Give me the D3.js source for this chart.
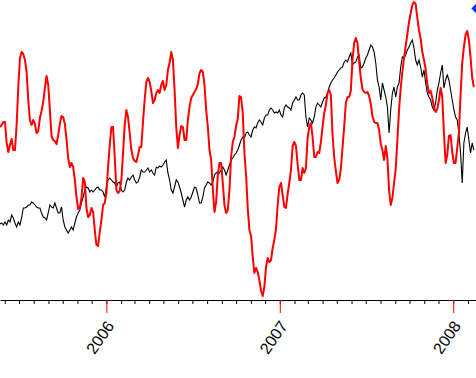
<!DOCTYPE html>
<html>
<head>
<meta charset="utf-8">
<script src="https://cdn.jsdelivr.net/npm/d3@7"></script>
<style>
body { margin: 0; background: #fff; }
svg { display: block; }
</style>
</head>
<body>
<script>
var svgWidth = 476;
var svgHeight = 378;
var axisY = 300;

// sampled twice a week from the start date
var startDate = new Date(2005, 4, 22);
var endDate = new Date(2008, 1, 18);
var stepHours = 84;

// black series (price)
var priceValues = [
  7.6,7.7,7.5,7.8,7.5,8.0,7.8,8.5,8.2,7.7,7.3,7.8,7.5,8.2,9.2,9.2,9.3,9.5,9.5,9.8,
  9.7,9.5,9.3,9.2,9.2,8.7,8.3,8.2,8.0,8.7,9.5,9.3,9.2,9.7,9.2,8.7,8.7,9.3,8.0,7.3,
  7.0,6.7,7.0,7.3,7.0,7.7,8.3,8.7,9.0,
  9.7,10.3,11.0,11.3,11.2,10.8,11.0,10.8,11.0,11.2,11.3,11.0,11.0,10.8,10.3,11.3,12.0,12.2,12.0,11.8,
  11.7,11.3,11.7,11.8,11.0,10.8,11.0,11.8,12.2,12.0,12.3,12.5,12.0,11.7,11.8,12.3,13.0,12.8,12.8,13.0,
  13.2,12.8,13.0,12.7,12.5,13.3,13.2,13.4,
  13.3,13.5,13.8,14.0,12.7,12.0,11.0,10.7,11.3,12.0,11.8,11.3,10.7,10.0,9.3,10.0,10.3,10.0,10.3,10.8,
  11.3,11.2,10.5,9.7,9.7,10.3,11.2,11.5,11.8,11.7,11.5,11.8,12.5,12.7,12.8,12.7,13.0,13.3,13.0,12.5,
  13.0,13.5,14.0,14.2,14.5,14.7,15.0,15.5,
  16.0,16.3,16.2,16.7,16.8,16.5,16.3,17.0,17.3,17.2,17.7,18.0,17.8,17.5,18.2,18.5,18.5,19.0,19.2,19.0,
  18.7,18.8,18.7,19.0,18.5,18.3,19.2,19.5,19.3,19.2,19.0,19.7,20.0,20.3,20.0,20.0,20.5,20.7,20.5,18.3,
  17.3,18.2,18.0,17.7,18.3,19.3,19.7,19.5,
  19.3,19.8,20.2,20.3,20.7,21.3,21.7,22.0,22.2,22.5,22.8,23.0,23.2,23.3,23.8,24.0,23.8,24.3,24.7,23.5,
  23.7,23.8,24.3,24.5,23.2,23.3,23.7,24.2,24.5,25.0,25.5,25.3,24.8,23.7,22.0,21.3,20.0,21.7,21.0,20.3,
  19.3,16.7,19.0,20.7,21.3,20.3,21.3,21.7,
  23.3,24.3,24.2,24.5,25.0,25.3,25.7,26.0,25.2,24.0,23.5,24.0,23.3,22.3,23.0,21.7,20.7,20.3,20.0,19.3,
  19.0,19.7,21.0,21.7,22.7,23.5,21.2,22.0,22.5,22.0,21.0,20.0,19.0,18.3,18.0,16.7,14.7,11.7,15.7,16.7,
  17.3,16.0,14.7,15.7,15.0
];

// red series (oscillator)
var oscValues = [
  23,25,28,28,7,-2,5,11,0,0,25,63,92,98,96,90,78,50,30,25,
  30,26,17,19,32,39,48,62,74,65,40,14,10,9,6,15,26,34,33,26,
  11,-8,-17,-13,-17,-30,-47,-59,-58,
  -48,-28,-32,-58,-67,-65,-58,-62,-80,-95,-96,-82,-70,-55,-53,-43,-17,5,23,23,
  -7,-40,-43,-41,-30,-3,25,40,33,17,0,-8,-11,-12,-5,3,3,28,50,68,
  72,68,59,47,50,57,60,57,
  65,69,60,65,80,87,98,90,60,23,2,15,24,23,10,10,30,43,52,55,
  58,61,66,77,80,78,65,40,23,0,-10,-39,-62,-52,-25,-13,-13,-33,-55,-63,
  -60,-40,-7,8,13,24,31,54,
  53,37,-3,-25,-58,-80,-86,-107,-123,-118,-122,-130,-141,-146,-137,-117,-108,-112,-110,-98,
  -90,-79,-55,-37,-33,-45,-57,-58,-44,-33,-20,4,8,4,-14,-30,-30,-18,-23,-18,
  12,23,27,13,-7,-7,-2,-3,
  8,23,37,45,57,60,55,15,-7,-21,-33,-30,-19,2,23,47,53,53,59,90,
  107,112,107,88,72,61,58,57,58,54,46,34,28,27,27,20,6,0,-10,4,
  -8,-40,-55,-48,-33,-19,10,40,
  62,78,92,104,116,128,137,145,148,146,132,120,111,98,90,81,66,57,59,52,
  43,38,41,50,62,53,17,-13,-5,14,15,-2,-13,-13,2,17,55,87,103,115,
  119,110,93,72,63
];

var yearTicks = [2006, 2007, 2008];

var svg = d3.select("body")
  .append("svg")
  .attr("width", svgWidth)
  .attr("height", svgHeight);

var xScale = d3.scaleTime()
  .domain([startDate, endDate])
  .range([0, svgWidth]);

var priceScale = d3.scaleLinear()
  .domain([0, 30])
  .range([axisY, 0]);

var oscScale = d3.scaleLinear()
  .domain([-150, 150])
  .range([axisY, 0]);

function sampleDate(i) {
  return d3.timeHour.offset(startDate, i * stepHours);
}

// lines
var oscLine = d3.line()
  .x(function(d, i) { return xScale(sampleDate(i)); })
  .y(function(d) { return oscScale(d); });

var priceLine = d3.line()
  .x(function(d, i) { return xScale(sampleDate(i)); })
  .y(function(d) { return priceScale(d); });

svg.append("path")
  .datum(priceValues)
  .attr("fill", "none")
  .attr("stroke", "#000")
  .attr("stroke-width", 1.1)
  .attr("d", priceLine);

svg.append("path")
  .datum(oscValues)
  .attr("fill", "none")
  .attr("stroke", "#ff0000")
  .attr("stroke-width", 2)
  .attr("stroke-linejoin", "round")
  .attr("d", oscLine);

// month ticks
var monthAxis = d3.axisBottom(xScale)
  .ticks(d3.timeMonth.every(1))
  .tickSize(4)
  .tickSizeOuter(0)
  .tickFormat("");

var gMonths = svg.append("g")
  .attr("transform", "translate(0," + axisY + ")")
  .call(monthAxis);
gMonths.selectAll("line").attr("stroke", "#000");
gMonths.select(".domain").attr("stroke", "#000");

// year ticks and labels
var yearAxis = d3.axisBottom(xScale)
  .tickValues(yearTicks.map(function(y) { return new Date(y, 0, 1); }))
  .tickSize(13)
  .tickSizeOuter(0)
  .tickFormat(d3.timeFormat("%Y"));

var gYears = svg.append("g")
  .attr("transform", "translate(0," + axisY + ")")
  .call(yearAxis);
gYears.select(".domain").remove();
gYears.selectAll("line").attr("stroke", "#ff0000");
gYears.selectAll("text")
  .attr("x", 0)
  .attr("y", 0)
  .attr("dy", 0)
  .attr("transform", "translate(8,26) rotate(-55)")
  .style("text-anchor", "end")
  .style("font-family", "'Liberation Sans', Arial, sans-serif")
  .style("font-size", "16px")
  .attr("fill", "#000");

// marker at the right edge
svg.append("path")
  .attr("d", d3.symbol().type(d3.symbolSquare).size(64))
  .attr("transform", "translate(" + (xScale.range()[1] + 1) + ",8.5) rotate(45)")
  .attr("fill", "#0033ff");
</script>
</body>
</html>
